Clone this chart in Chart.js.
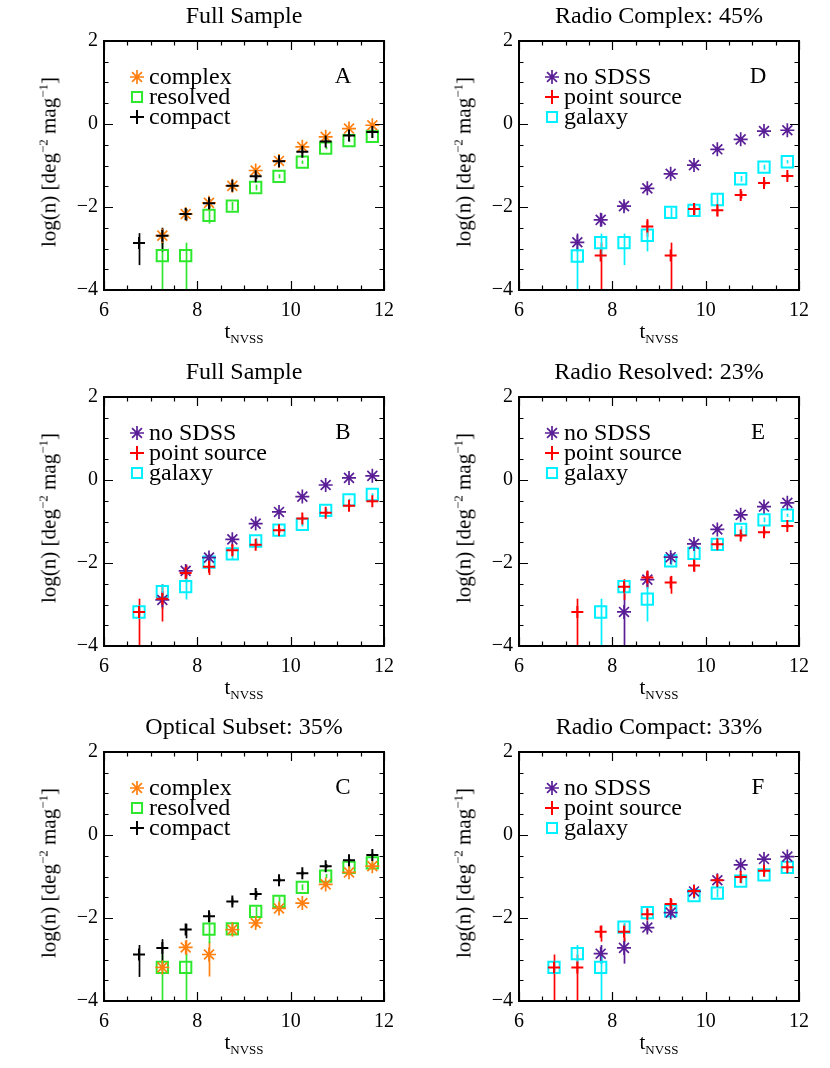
<!DOCTYPE html>
<html>
<head>
<meta charset="utf-8">
<script src="https://cdn.jsdelivr.net/npm/chart.js@4.4.0/dist/chart.umd.min.js"></script>
<style>
  body { margin: 0; background: #fff; width: 830px; height: 1068px; position: relative; overflow: hidden;
         font-family: 'Liberation Serif', 'Times New Roman', serif; }
  canvas { position: absolute; }
  .lbl { position: absolute; white-space: nowrap; color: #000; transform: translate(-50%, -50%); line-height: 1; }
  .ttl { font-size: 24px; }
  .xl { font-size: 21px; }
  .xl sub { font-size: 13px; vertical-align: -5px; }
  .yl { font-size: 21px; transform: translate(-50%, -50%) rotate(-90deg); }
  .yl sup { font-size: 13px; vertical-align: 8px; }
</style>
</head>
<body>
<script>
// bin centres in t_NVSS
const tBins = [6.75, 7.25, 7.75, 8.25, 8.75, 9.25, 9.75, 10.25, 10.75, 11.25, 11.75];
const xTicks = [6, 8, 10, 12];
const yTicks = [-4, -2, 0, 2];

// A: full sample, by radio morphology
const aComplex   = [null, -2.69, -2.17, -1.90, -1.49, -1.12, -0.89, -0.55, -0.31, -0.11, -0.03];
const aComplexLo = [null, -2.90, -2.30, -2.00, -1.56, -1.18, -0.93, -0.59, -0.34, -0.13, -0.05];
const aComplexHi = [null, -2.52, -2.06, -1.81, -1.43, -1.07, -0.85, -0.52, -0.28, -0.09, -0.01];
const aResolved   = [null, -3.17, -3.17, -2.20, -1.98, -1.53, -1.26, -0.92, -0.58, -0.40, -0.30];
const aResolvedLo = [null, -5, -5, -2.40, -2.08, -1.60, -1.31, -0.96, -0.61, -0.43, -0.32];
const aResolvedHi = [null, -2.86, -2.86, -1.98, -1.88, -1.46, -1.21, -0.88, -0.55, -0.37, -0.28];
const aCompact   = [-2.87, -2.69, -2.17, -1.91, -1.49, -1.26, -0.90, -0.67, -0.42, -0.28, -0.19];
const aCompactLo = [-3.40, -3.07, -2.34, -2.03, -1.57, -1.33, -0.95, -0.71, -0.46, -0.31, -0.22];
const aCompactHi = [-2.63, -2.50, -2.05, -1.80, -1.42, -1.19, -0.85, -0.63, -0.38, -0.25, -0.16];

// B: full sample, by optical class
const bNoSdss   = [null, -2.89, -2.19, -1.87, -1.43, -1.05, -0.77, -0.40, -0.12, 0.05, 0.10];
const bNoSdssLo = [null, -3.10, -2.32, -1.97, -1.50, -1.10, -0.81, -0.43, -0.14, 0.03, 0.08];
const bNoSdssHi = [null, -2.68, -2.07, -1.78, -1.36, -1.00, -0.73, -0.37, -0.10, 0.07, 0.12];
const bPoint   = [-3.18, -2.86, -2.24, -2.09, -1.69, -1.56, -1.21, -0.93, -0.79, -0.62, -0.51];
const bPointLo = [-5, -3.41, -2.47, -2.29, -1.82, -1.63, -1.27, -0.98, -0.83, -0.66, -0.54];
const bPointHi = [-2.86, -2.51, -2.04, -1.88, -1.56, -1.49, -1.15, -0.88, -0.75, -0.58, -0.48];
const bGalaxy   = [-3.18, -2.69, -2.57, -1.98, -1.78, -1.47, -1.21, -1.07, -0.73, -0.48, -0.35];
const bGalaxyLo = [-3.30, -2.88, -2.88, -2.08, -1.92, -1.54, -1.26, -1.12, -0.77, -0.51, -0.38];
const bGalaxyHi = [-3.06, -2.51, -2.35, -1.88, -1.65, -1.40, -1.16, -1.02, -0.69, -0.45, -0.32];

// C: optical subset, by radio morphology
const cComplex   = [null, -3.19, -2.71, -2.88, -2.28, -2.12, -1.77, -1.64, -1.19, -0.90, -0.75];
const cComplexLo = [null, -3.30, -2.90, -3.41, -2.44, -2.22, -1.84, -1.70, -1.24, -0.94, -0.78];
const cComplexHi = [null, -3.08, -2.53, -2.57, -2.10, -2.02, -1.70, -1.58, -1.14, -0.86, -0.72];
const cResolved   = [null, -3.19, -3.19, -2.27, -2.26, -1.84, -1.60, -1.26, -0.99, -0.78, -0.67];
const cResolvedLo = [null, -5, -5, -2.61, -2.40, -1.95, -1.73, -1.33, -1.04, -0.82, -0.70];
const cResolvedHi = [null, -2.88, -2.88, -2.14, -2.12, -1.73, -1.48, -1.19, -0.94, -0.74, -0.64];
const cCompact   = [-2.88, -2.72, -2.28, -1.96, -1.60, -1.42, -1.09, -0.92, -0.75, -0.61, -0.48];
const cCompactLo = [-3.42, -3.10, -2.49, -2.10, -1.68, -1.49, -1.14, -0.97, -0.80, -0.65, -0.52];
const cCompactHi = [-2.65, -2.51, -2.14, -1.87, -1.52, -1.35, -1.03, -0.87, -0.70, -0.57, -0.44];

// D: radio complex
const dNoSdss   = [null, -2.85, -2.31, -1.98, -1.55, -1.20, -0.99, -0.61, -0.37, -0.17, -0.15];
const dNoSdssLo = [null, -3.07, -2.47, -2.08, -1.62, -1.25, -1.03, -0.64, -0.40, -0.19, -0.17];
const dNoSdssHi = [null, -2.64, -2.15, -1.88, -1.48, -1.15, -0.95, -0.58, -0.34, -0.15, -0.13];
const dPoint   = [null, null, -3.17, null, -2.47, -3.17, -2.05, -2.08, -1.71, -1.42, -1.25];
const dPointLo = [null, null, -5, null, -2.72, -5, -2.21, -2.23, -1.80, -1.49, -1.31];
const dPointHi = [null, null, -2.86, null, -2.29, -2.86, -1.91, -1.94, -1.62, -1.35, -1.19];
const dGalaxy   = [null, -3.18, -2.86, -2.86, -2.68, -2.13, -2.08, -1.82, -1.32, -1.04, -0.91];
const dGalaxyLo = [null, -5, -3.22, -3.40, -3.07, -2.29, -2.17, -1.95, -1.39, -1.10, -0.95];
const dGalaxyHi = [null, -2.95, -2.64, -2.64, -2.44, -2.02, -1.98, -1.70, -1.25, -0.98, -0.87];

// E: radio resolved
const eNoSdss   = [null, null, null, -3.18, -2.40, -1.86, -1.54, -1.19, -0.84, -0.64, -0.55];
const eNoSdssLo = [null, null, null, -5, -2.62, -1.97, -1.62, -1.25, -0.89, -0.68, -0.58];
const eNoSdssHi = [null, null, null, -2.55, -2.19, -1.76, -1.46, -1.13, -0.79, -0.60, -0.52];
const ePoint   = [null, -3.18, null, -2.57, -2.35, -2.47, -2.06, -1.55, -1.34, -1.26, -1.11];
const ePointLo = [null, -5, null, -2.89, -2.58, -2.74, -2.21, -1.64, -1.41, -1.32, -1.16];
const ePointHi = [null, -2.86, null, -2.39, -2.18, -2.31, -1.93, -1.46, -1.27, -1.20, -1.06];
const eGalaxy   = [null, null, -3.18, -2.57, -2.87, -1.95, -1.77, -1.55, -1.19, -0.96, -0.85];
const eGalaxyLo = [null, null, -5, -2.70, -3.41, -2.05, -1.90, -1.62, -1.27, -1.02, -0.89];
const eGalaxyHi = [null, null, -2.86, -2.45, -2.58, -1.85, -1.65, -1.48, -1.11, -0.90, -0.81];

// F: radio compact
const fNoSdss   = [null, null, -2.86, -2.72, -2.23, -1.87, -1.36, -1.09, -0.72, -0.58, -0.52];
const fNoSdssLo = [null, null, -3.11, -3.10, -2.35, -1.97, -1.43, -1.14, -0.77, -0.62, -0.55];
const fNoSdssHi = [null, null, -2.65, -2.49, -2.11, -1.77, -1.29, -1.04, -0.67, -0.54, -0.49];
const fPoint   = [-3.19, -3.19, -2.33, -2.33, -1.91, -1.66, -1.35, -1.09, -1.01, -0.86, -0.78];
const fPointLo = [-5, -5, -2.57, -2.57, -2.02, -1.77, -1.42, -1.14, -1.07, -0.92, -0.83];
const fPointHi = [-2.88, -2.88, -2.18, -2.14, -1.80, -1.55, -1.28, -1.04, -0.95, -0.80, -0.73];
const fGalaxy   = [-3.19, -2.86, -3.19, -2.22, -1.87, -1.83, -1.46, -1.40, -1.11, -0.96, -0.78];
const fGalaxyLo = [-3.30, -3.10, -5, -2.32, -1.95, -1.92, -1.52, -1.50, -1.17, -1.01, -0.82];
const fGalaxyHi = [-3.08, -2.65, -2.88, -2.12, -1.79, -1.74, -1.40, -1.30, -1.05, -0.91, -0.74];

const ORANGE = '#ff8010', GREEN = '#2ee82e', BLACK = '#000000',
      PURPLE = '#5a1e96', RED = '#ff0000', CYAN = '#00f0ff';

function ser(label, style, color, y, lo, hi, order) {
  return { label, style, color, y, lo, hi, order };
}

function morph(c, cLo, cHi, r, rLo, rHi, k, kLo, kHi) {
  return [
    ser('complex', 'star', ORANGE, c, cLo, cHi, 2),
    ser('resolved', 'rect', GREEN, r, rLo, rHi, 3),
    ser('compact', 'cross', BLACK, k, kLo, kHi, 1)
  ];
}
function optical(n, nLo, nHi, p, pLo, pHi, g, gLo, gHi) {
  return [
    ser('no SDSS', 'star', PURPLE, n, nLo, nHi, 2),
    ser('point source', 'cross', RED, p, pLo, pHi, 1),
    ser('galaxy', 'rect', CYAN, g, gLo, gHi, 3)
  ];
}

const PW = 280, PH = 257;
const panels = [
  { letter: 'A', title: 'Full Sample', L: 104, T: 33,
    series: morph(aComplex, aComplexLo, aComplexHi, aResolved, aResolvedLo, aResolvedHi, aCompact, aCompactLo, aCompactHi) },
  { letter: 'B', title: 'Full Sample', L: 104, T: 389,
    series: optical(bNoSdss, bNoSdssLo, bNoSdssHi, bPoint, bPointLo, bPointHi, bGalaxy, bGalaxyLo, bGalaxyHi) },
  { letter: 'C', title: 'Optical Subset: 35%', L: 104, T: 744,
    series: morph(cComplex, cComplexLo, cComplexHi, cResolved, cResolvedLo, cResolvedHi, cCompact, cCompactLo, cCompactHi) },
  { letter: 'D', title: 'Radio Complex: 45%', L: 519, T: 33,
    series: optical(dNoSdss, dNoSdssLo, dNoSdssHi, dPoint, dPointLo, dPointHi, dGalaxy, dGalaxyLo, dGalaxyHi) },
  { letter: 'E', title: 'Radio Resolved: 23%', L: 519, T: 389,
    series: optical(eNoSdss, eNoSdssLo, eNoSdssHi, ePoint, ePointLo, ePointHi, eGalaxy, eGalaxyLo, eGalaxyHi) },
  { letter: 'F', title: 'Radio Compact: 33%', L: 519, T: 744,
    series: optical(fNoSdss, fNoSdssLo, fNoSdssHi, fPoint, fPointLo, fPointHi, fGalaxy, fGalaxyLo, fGalaxyHi) }
];

const PAD_L = 55, PAD_T = 10, PAD_R = 20, PAD_B = 40;
const FONT = "'Liberation Serif', 'Times New Roman', serif";

function drawMarker(ctx, style, x, y, r, color) {
  ctx.save();
  ctx.strokeStyle = color;
  ctx.beginPath();
  if (style === 'rect') {
    ctx.lineWidth = 2;
    const s = r * 0.72;
    ctx.rect(x - s, y - s, 2 * s, 2 * s);
  } else if (style === 'cross') {
    ctx.lineWidth = 2;
    ctx.moveTo(x - r, y); ctx.lineTo(x + r, y);
    ctx.moveTo(x, y - r); ctx.lineTo(x, y + r);
  } else {
    ctx.lineWidth = 1.7;
    for (let a = 0; a < 4; a++) {
      const ang = a * Math.PI / 4;
      ctx.moveTo(x - r * Math.cos(ang), y - r * Math.sin(ang));
      ctx.lineTo(x + r * Math.cos(ang), y + r * Math.sin(ang));
    }
  }
  ctx.stroke();
  ctx.restore();
}

// vertical error bars, clipped to the plot box
const errorBars = {
  id: 'errorBars',
  beforeDatasetsDraw(chart) {
    const { ctx, chartArea: a, scales: { x, y } } = chart;
    ctx.save();
    ctx.beginPath();
    ctx.rect(a.left, a.top, a.right - a.left, a.bottom - a.top);
    ctx.clip();
    chart.data.datasets.forEach(ds => {
      ctx.strokeStyle = ds.borderColor;
      ctx.lineWidth = 1.7;
      ds.errLo.forEach((lo, i) => {
        const hi = ds.errHi[i];
        if (lo === null || hi === null) return;
        const px = Math.round(x.getPixelForValue(tBins[i])) + 0.5;
        ctx.beginPath();
        ctx.moveTo(px, y.getPixelForValue(lo));
        ctx.lineTo(px, y.getPixelForValue(hi));
        ctx.stroke();
      });
    });
    ctx.restore();
  }
};

// box, inward ticks on four sides, legend and panel letter
const frame = {
  id: 'frame',
  afterDraw(chart) {
    const { ctx, chartArea: a, scales: { x, y } } = chart;
    const p = chart.options.plugins.frame;
    ctx.save();
    ctx.strokeStyle = '#000';
    ctx.lineWidth = 1.2;
    ctx.beginPath();
    for (let v = 6; v <= 12.001; v += 0.5) {
      const px = Math.round(x.getPixelForValue(v)) + 0.5;
      const len = (Math.abs(v % 2) < 1e-6) ? 9 : 4.5;
      ctx.moveTo(px, a.bottom); ctx.lineTo(px, a.bottom - len);
      ctx.moveTo(px, a.top); ctx.lineTo(px, a.top + len);
    }
    for (let v = -4; v <= 2.001; v += 0.5) {
      const py = Math.round(y.getPixelForValue(v)) + 0.5;
      const len = (Math.abs(v % 2) < 1e-6) ? 9 : 4.5;
      ctx.moveTo(a.left, py); ctx.lineTo(a.left + len, py);
      ctx.moveTo(a.right, py); ctx.lineTo(a.right - len, py);
    }
    ctx.stroke();
    ctx.lineWidth = 2;
    ctx.strokeRect(a.left, a.top, a.right - a.left, a.bottom - a.top);

    ctx.fillStyle = '#000';
    ctx.textBaseline = 'middle';
    ctx.font = '24px ' + FONT;
    p.legend.forEach((s, i) => {
      const ly = a.top + 36 + i * 20;
      drawMarker(ctx, s.style, a.left + 33, ly, 7, s.color);
      ctx.fillText(s.label, a.left + 45, ly + 1);
    });
    ctx.textAlign = 'center';
    ctx.font = '23px ' + FONT;
    ctx.fillText(p.letter, a.left + 239, a.top + 36);
    ctx.restore();
  }
};

function addLabel(cls, html, cx, cy) {
  const d = document.createElement('div');
  d.className = 'lbl ' + cls;
  d.innerHTML = html;
  d.style.left = cx + 'px';
  d.style.top = cy + 'px';
  document.body.appendChild(d);
}

function fmtTick(v) {
  return v < 0 ? '\u2212' + Math.abs(v) : String(v);
}

panels.forEach(pn => {
  const cv = document.createElement('canvas');
  const w = PW + PAD_L + PAD_R, h = PH + PAD_T + PAD_B;
  cv.width = w; cv.height = h;
  cv.style.left = (pn.L - PAD_L) + 'px';
  cv.style.top = (pn.T - PAD_T) + 'px';
  cv.style.width = w + 'px'; cv.style.height = h + 'px';
  document.body.appendChild(cv);

  const datasets = pn.series.map(s => ({
    label: s.label,
    data: tBins.map((t, i) => s.y[i] === null ? null : { x: t, y: s.y[i] }).filter(d => d),
    errLo: tBins.map((t, i) => s.y[i] === null ? null : s.lo[i]),
    errHi: tBins.map((t, i) => s.y[i] === null ? null : s.hi[i]),
    pointStyle: s.style === 'star' ? 'star' : s.style === 'cross' ? 'cross' : 'rect',
    pointRadius: s.style === 'rect' ? 8 : s.style === 'star' ? 7 : 6,
    borderWidth: s.style === 'star' ? 1.7 : 2,
    borderColor: s.color,
    backgroundColor: 'rgba(0,0,0,0)',
    showLine: false,
    order: s.order
  }));

  new Chart(cv.getContext('2d'), {
    type: 'scatter',
    data: { datasets },
    options: {
      responsive: false,
      animation: false,
      devicePixelRatio: 1,
      events: [],
      layout: { padding: { top: PAD_T, right: PAD_R, left: 0, bottom: 0 } },
      scales: {
        x: {
          type: 'linear', min: 6, max: 12,
          afterBuildTicks: sc => { sc.ticks = xTicks.map(v => ({ value: v })); },
          afterFit: sc => { sc.height = PAD_B; },
          grid: { display: false, drawTicks: false },
          border: { display: false },
          ticks: { color: '#000', padding: 9, maxRotation: 0, font: { family: FONT, size: 20 }, callback: fmtTick }
        },
        y: {
          type: 'linear', min: -4, max: 2,
          afterBuildTicks: sc => { sc.ticks = yTicks.map(v => ({ value: v })); },
          afterFit: sc => { sc.width = PAD_L; },
          grid: { display: false, drawTicks: false },
          border: { display: false },
          ticks: { color: '#000', padding: 6, font: { family: FONT, size: 20 }, callback: fmtTick }
        }
      },
      plugins: {
        legend: { display: false },
        tooltip: { enabled: false },
        frame: { legend: pn.series, letter: pn.letter }
      }
    },
    plugins: [errorBars, frame]
  });

  const cx = pn.L + PW / 2;
  addLabel('ttl', pn.title, cx, pn.T - 18);
  addLabel('xl', 't<sub>NVSS</sub>', cx, pn.T + PH + 43);
  addLabel('yl', 'log(n) [deg<sup>\u22122</sup> mag<sup>\u22121</sup>]', pn.L - 56, pn.T + PH / 2);
});
</script>
</body>
</html>
